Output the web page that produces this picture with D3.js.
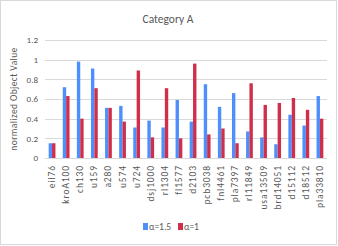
<!DOCTYPE html>
<html>
<head>
<meta charset="utf-8">
<script src="https://cdn.jsdelivr.net/npm/d3@7"></script>
<style>
  body { margin: 0; background: #fff; }
  text { font-family: Calibri, Carlito, "Open Sans", sans-serif; fill: #595959; }
</style>
</head>
<body>
<svg id="chart"></svg>
<script>
const width = 338;
const height = 246;

const instances = ["eil76", "kroA100", "ch130", "u159", "a280", "u574", "u724", "dsj1000", "rl1304", "fl1577",
    "d2103", "pcb3038", "fnl4461", "pla7397", "rl11849", "usa13509", "brd14051", "d15112", "d18512", "pla33810"];
const alpha15 = [0.15, 0.72, 0.98, 0.91, 0.51, 0.53, 0.31, 0.38, 0.31, 0.59,
    0.37, 0.75, 0.52, 0.66, 0.27, 0.21, 0.14, 0.44, 0.33, 0.63];
const alpha1 = [0.15, 0.63, 0.40, 0.71, 0.51, 0.37, 0.89, 0.21, 0.71, 0.20,
    0.96, 0.24, 0.30, 0.15, 0.76, 0.54, 0.56, 0.61, 0.49, 0.40];
const seriesNames = ["α=1.5", "α=1"];
const yTicks = [0, 0.2, 0.4, 0.6, 0.8, 1, 1.2];

const colors = ["#4d8ffb", "#cf2f4a"];
const margin = { top: 40, right: 11, bottom: 88, left: 45 };
const font = "Calibri, Carlito, 'Open Sans', sans-serif";

const svg = d3.select("#chart")
    .attr("width", width)
    .attr("height", height);

// chart frame
svg.append("rect")
    .attr("x", 0.5).attr("y", 0.5)
    .attr("width", width - 2).attr("height", height - 2)
    .attr("fill", "#fff")
    .attr("stroke", "#d9d9d9");

const x = d3.scaleBand()
    .domain(instances)
    .range([margin.left, width - margin.right])
    .paddingInner(0.52)
    .paddingOuter(0.26);

const y = d3.scaleLinear()
    .domain([0, 1.2])
    .range([height - margin.bottom, margin.top]);

// gridlines
svg.append("g")
    .selectAll("line")
    .data(yTicks)
    .join("line")
    .attr("x1", margin.left)
    .attr("x2", width - margin.right)
    .attr("y1", d => Math.round(y(d)) + 0.5)
    .attr("y2", d => Math.round(y(d)) + 0.5)
    .attr("stroke", "#d9d9d9");

// y axis labels
const yAxis = svg.append("g")
    .attr("transform", `translate(${margin.left},0)`)
    .call(d3.axisLeft(y).tickValues(yTicks).tickSize(0).tickPadding(7).tickFormat(d3.format("")));
yAxis.select(".domain").remove();
yAxis.selectAll("text").attr("font-size", 9).style("font-family", font).attr("fill", "#595959");

// bars
const sub = d3.scaleBand()
    .domain([0, 1])
    .range([0, x.bandwidth()]);

const rows = instances.map((name, i) => ({ name, values: [alpha15[i], alpha1[i]] }));

svg.append("g")
    .selectAll("g")
    .data(rows)
    .join("g")
    .attr("transform", d => `translate(${x(d.name)},0)`)
    .selectAll("rect")
    .data(d => d.values.map((v, k) => ({ v, k })))
    .join("rect")
    .attr("x", d => sub(d.k))
    .attr("width", sub.bandwidth())
    .attr("y", d => y(d.v))
    .attr("height", d => y(0) - y(d.v))
    .attr("fill", d => colors[d.k]);

// x axis labels
const xAxis = svg.append("g")
    .attr("transform", `translate(0,${y(0)})`)
    .call(d3.axisBottom(x).tickSize(0).tickPadding(0));
xAxis.select(".domain").remove();
xAxis.selectAll("text")
    .attr("font-size", 9.5)
    .style("font-family", font)
    .attr("fill", "#595959")
    .attr("letter-spacing", 0.9)
    .attr("text-anchor", "end")
    .attr("dy", "0.32em")
    .attr("transform", "translate(0,7) rotate(-90)")
    .attr("x", 0).attr("y", 0);

// title
svg.append("text")
    .attr("x", 168)
    .attr("y", 23)
    .attr("text-anchor", "middle")
    .attr("font-size", 11.5)
    .text("Category A");

// y axis title
svg.append("text")
    .attr("transform", `translate(17,${(margin.top + y(0)) / 2}) rotate(-90)`)
    .attr("text-anchor", "middle")
    .attr("font-size", 9.5)
    .attr("letter-spacing", 0.4)
    .text("normalized Object Value");

// legend
const legend = svg.append("g")
    .attr("transform", "translate(143,227)");
const legendX = [0, 35];
seriesNames.forEach((name, i) => {
    legend.append("rect")
        .attr("x", legendX[i]).attr("y", -4)
        .attr("width", 5).attr("height", 7)
        .attr("fill", colors[i]);
    legend.append("text")
        .attr("x", legendX[i] + 6).attr("y", 3)
        .attr("font-size", 9.5)
        .text(name);
});
</script>
</body>
</html>
